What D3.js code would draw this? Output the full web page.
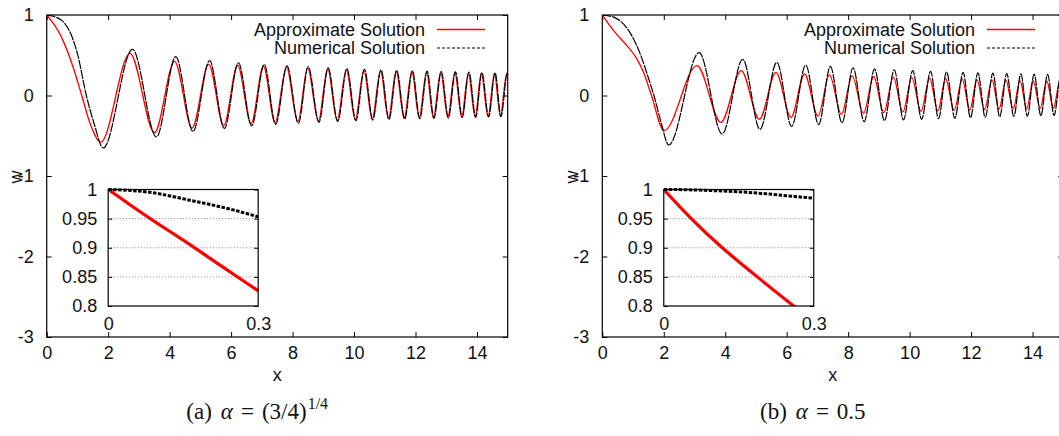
<!DOCTYPE html>
<html>
<head>
<meta charset="utf-8">
<script src="https://cdn.jsdelivr.net/npm/d3@7"></script>
<style>
body { margin: 0; background: #fff; }
svg { display: block; }
</style>
</head>
<body>
<svg id="chart" width="1059" height="436"></svg>
<script>
// tick labels
var xTicks = [0, 2, 4, 6, 8, 10, 12, 14];
var yTicks = [1, 0, -1, -2, -3];
var insetXTicks = [0, 0.3];
var insetYTicks = [1, 0.95, 0.9, 0.85, 0.8];
var insetGrid = [0.95, 0.9, 0.85];
var legendNames = ["Approximate Solution", "Numerical Solution"];

// (a) alpha = (3/4)^(1/4) : points (start, then peaks / troughs)
var numA = [[0,1],[0.46,0.94],[1.0,0.52],[1.29,0],[1.54,-0.345],[1.84,-0.652],
  [2.79,0.574],[3.57,-0.515],[4.20,0.482],[4.76,-0.447],[5.30,0.435],[5.78,-0.41],
  [6.24,0.407],[6.67,-0.377],[7.08,0.388],[7.45,-0.358],[7.82,0.368],[8.19,-0.345],
  [8.51,0.358],[8.86,-0.333],[9.16,0.343],[9.47,-0.324],[9.77,0.335],[10.06,-0.313],
  [10.34,0.326],[10.61,-0.305],[10.88,0.32],[11.14,-0.298],[11.39,0.314],[11.65,-0.292],
  [11.90,0.308],[12.14,-0.287],[12.38,0.302],[12.60,-0.282],[12.84,0.298],[13.07,-0.278],
  [13.30,0.294],[13.52,-0.274],[13.74,0.29],[13.96,-0.27],[14.16,0.286],[14.38,-0.267],
  [14.59,0.283],[14.78,-0.264],[14.99,0.28],[15,0.279]];
var appA = [[0,1],[0.45,0.75],[0.89,0.317],[1.14,0],[1.43,-0.366],[1.76,-0.58],
  [2.71,0.524],[3.51,-0.462],[4.16,0.425],[4.73,-0.405],[5.27,0.39],[5.76,-0.375],
  [6.21,0.377],[6.65,-0.352],[7.05,0.365],[7.43,-0.338],[7.80,0.355],[8.17,-0.328],
  [8.49,0.346],[8.84,-0.318],[9.14,0.333],[9.45,-0.31],[9.75,0.325],[10.04,-0.302],
  [10.32,0.316],[10.59,-0.295],[10.86,0.31],[11.12,-0.289],[11.37,0.305],[11.63,-0.284],
  [11.88,0.299],[12.12,-0.279],[12.36,0.294],[12.58,-0.275],[12.82,0.29],[13.05,-0.271],
  [13.28,0.286],[13.50,-0.268],[13.72,0.282],[13.94,-0.265],[14.14,0.279],[14.36,-0.262],
  [14.57,0.276],[14.76,-0.259],[14.97,0.273],[15,0.272]];
var numAZoom = [[0,1],[0.05,0.998],[0.1,0.993],[0.15,0.984],[0.2,0.975],[0.25,0.965],[0.3,0.953]];
var appAZoom = [[0,1],[0.05,0.970],[0.1,0.941],[0.15,0.913],[0.2,0.884],[0.25,0.855],[0.3,0.826]];

// (b) alpha = 0.5
var numB = [[0,1],[0.39,0.97],[0.95,0.75],[1.27,0.48],[1.49,0.23],[1.68,0],[1.92,-0.345],
  [2.16,-0.615],[3.15,0.532],[3.90,-0.478],[4.57,0.45],[5.13,-0.42],[5.68,0.412],
  [6.16,-0.383],[6.62,0.379],[7.04,-0.362],[7.42,0.362],[7.80,-0.34],[8.16,0.345],
  [8.52,-0.325],[8.86,0.33],[9.18,-0.313],[9.50,0.32],[9.80,-0.304],[10.10,0.31],
  [10.39,-0.296],[10.68,0.3],[10.94,-0.288],[11.20,0.293],[11.47,-0.282],[11.74,0.287],
  [11.98,-0.276],[12.22,0.281],[12.46,-0.27],[12.71,0.277],[12.93,-0.265],[13.16,0.272],
  [13.39,-0.26],[13.62,0.268],[13.83,-0.256],[14.05,0.265],[14.27,-0.252],[14.49,0.262],
  [14.70,-0.248],[14.92,0.26],[15,0.25]];
var appB = [[0,1],[0.4,0.79],[0.8,0.62],[1.1,0.47],[1.35,0.28],[1.6,0],[2.01,-0.437],
  [3.08,0.37],[3.86,-0.333],[4.52,0.308],[5.11,-0.296],[5.65,0.288],[6.14,-0.271],
  [6.58,0.267],[7.02,-0.255],[7.39,0.255],[7.78,-0.235],[8.13,0.245],[8.50,-0.222],
  [8.83,0.236],[9.16,-0.212],[9.47,0.228],[9.78,-0.204],[10.07,0.221],[10.37,-0.197],
  [10.65,0.214],[10.92,-0.19],[11.17,0.208],[11.45,-0.184],[11.71,0.203],[11.96,-0.179],
  [12.19,0.198],[12.44,-0.174],[12.68,0.194],[12.91,-0.17],[13.13,0.19],[13.37,-0.166],
  [13.59,0.186],[13.81,-0.163],[14.02,0.183],[14.25,-0.16],[14.46,0.18],[14.68,-0.157],
  [14.89,0.177],[15,0.15]];
var numBZoom = [[0,1],[0.05,0.9995],[0.1,0.998],[0.15,0.996],[0.2,0.993],[0.25,0.989],[0.3,0.985]];
var appBZoom = [[0,1],[0.055,0.95],[0.117,0.9],[0.187,0.85],[0.26,0.8],[0.3,0.775]];

var svg = d3.select("#chart");
var font = "'Liberation Sans', Arial, Helvetica, sans-serif";
var serif = "'Liberation Serif', 'Times New Roman', serif";
var fmt = function(d) { return String(d); };

function panel(id, left, legendX, num, app, numZoom, appZoom, caption) {
  var top = 15, bottom = 337, width = 461;
  var x = d3.scaleLinear().domain([0, 15]).range([left, left + width]);
  var y = d3.scaleLinear().domain([-3, 1]).range([bottom, top]);

  var g = svg.append("g");

  g.append("clipPath").attr("id", "clip" + id)
    .append("rect").attr("x", left).attr("y", top).attr("width", width).attr("height", bottom - top);

  // frame
  g.append("rect").attr("x", left).attr("y", top).attr("width", width).attr("height", bottom - top)
    .attr("fill", "none").attr("stroke", "#000").attr("stroke-width", 1.2);

  function styleAxis(a) {
    a.select(".domain").remove();
    a.attr("font-family", font).attr("font-size", 18);
    a.selectAll("text").attr("fill", "#111");
    a.selectAll("line").attr("stroke-width", 1);
  }

  g.append("g").attr("transform", "translate(0," + bottom + ")")
    .call(d3.axisBottom(x).tickValues(xTicks).tickFormat(fmt).tickSizeInner(-5).tickSizeOuter(0).tickPadding(9))
    .call(styleAxis);
  g.append("g").attr("transform", "translate(0," + top + ")")
    .call(d3.axisTop(x).tickValues(xTicks).tickSizeInner(-5).tickSizeOuter(0).tickFormat(""))
    .call(styleAxis);
  g.append("g").attr("transform", "translate(" + left + ",0)")
    .call(d3.axisLeft(y).tickValues(yTicks).tickFormat(fmt).tickSizeInner(-5).tickSizeOuter(0).tickPadding(13))
    .call(styleAxis);
  g.append("g").attr("transform", "translate(" + (left + width) + ",0)")
    .call(d3.axisRight(y).tickValues(yTicks).tickSizeInner(-5).tickSizeOuter(0).tickFormat(""))
    .call(styleAxis);

  // axis titles
  g.append("text").attr("x", x(7.5)).attr("y", 381).attr("text-anchor", "middle")
    .attr("font-family", font).attr("font-size", 18).attr("fill", "#111").text("x");
  g.append("text").attr("transform", "translate(" + (left - 31) + ",177) rotate(-90)")
    .attr("text-anchor", "middle").attr("dy", "0.35em")
    .attr("font-family", font).attr("font-size", 18).attr("fill", "#111").text("w");

  var line = d3.line().x(function(d) { return x(d[0]); }).y(function(d) { return y(d[1]); })
    .curve(d3.curveMonotoneX);

  g.append("path").datum(app).attr("d", line).attr("clip-path", "url(#clip" + id + ")")
    .attr("fill", "none").attr("stroke", "#ff0000").attr("stroke-width", 1.3);
  g.append("path").datum(num).attr("d", line).attr("clip-path", "url(#clip" + id + ")")
    .attr("fill", "none").attr("stroke", "#000").attr("stroke-width", 1.2)
    .attr("stroke-dasharray", "9,1");

  // legend
  var ly = [29.5, 48];
  legendNames.forEach(function(name, i) {
    g.append("text").attr("x", legendX).attr("y", ly[i]).attr("dy", "0.35em").attr("text-anchor", "end")
      .attr("font-family", font).attr("font-size", 18).attr("fill", "#111").text(name);
    g.append("line").attr("x1", legendX + 12).attr("x2", legendX + 60).attr("y1", ly[i]).attr("y2", ly[i])
      .attr("stroke", i === 0 ? "#ff0000" : "#000").attr("stroke-width", i === 0 ? 1.6 : 1)
      .attr("stroke-dasharray", i === 0 ? null : "3,2");
  });

  // inset
  var ix0 = x(2), iw = 150, itop = 189.5, ibot = 306;
  var ix = d3.scaleLinear().domain([0, 0.3]).range([ix0, ix0 + iw]);
  var iy = d3.scaleLinear().domain([0.8, 1]).range([ibot, itop]);
  var ins = g.append("g");
  ins.append("clipPath").attr("id", "iclip" + id)
    .append("rect").attr("x", ix0).attr("y", itop - 2).attr("width", iw).attr("height", ibot - itop + 2);
  ins.append("rect").attr("x", ix0).attr("y", itop).attr("width", iw).attr("height", ibot - itop)
    .attr("fill", "#fff");
  ins.selectAll("line.grid").data(insetGrid).enter().append("line").attr("class", "grid")
    .attr("x1", ix0).attr("x2", ix0 + iw).attr("y1", function(d) { return iy(d); })
    .attr("y2", function(d) { return iy(d); })
    .attr("stroke", "#888").attr("stroke-width", 1).attr("stroke-dasharray", "1,2");
  ins.append("g").attr("transform", "translate(" + ix0 + ",0)")
    .call(d3.axisLeft(iy).tickValues(insetYTicks).tickFormat(fmt).tickSizeInner(-4).tickSizeOuter(0).tickPadding(11))
    .call(styleAxis);
  ins.append("g").attr("transform", "translate(" + (ix0 + iw) + ",0)")
    .call(d3.axisRight(iy).tickValues(insetYTicks).tickSizeInner(-4).tickSizeOuter(0).tickFormat(""))
    .call(styleAxis);
  ins.append("g").attr("transform", "translate(0," + ibot + ")")
    .call(d3.axisBottom(ix).tickValues(insetXTicks).tickFormat(fmt).tickSizeInner(0).tickSizeOuter(0).tickPadding(11))
    .call(styleAxis);

  var iline = d3.line().x(function(d) { return ix(d[0]); }).y(function(d) { return iy(d[1]); })
    .curve(d3.curveNatural);
  ins.append("path").datum(appZoom).attr("d", iline).attr("clip-path", "url(#iclip" + id + ")")
    .attr("fill", "none").attr("stroke", "#ff0000").attr("stroke-width", 3.2);
  ins.append("path").datum(numZoom).attr("d", iline).attr("clip-path", "url(#iclip" + id + ")")
    .attr("fill", "none").attr("stroke", "#000").attr("stroke-width", 3)
    .attr("stroke-dasharray", "3.5,1.5");
  ins.append("rect").attr("x", ix0).attr("y", itop).attr("width", iw).attr("height", ibot - itop)
    .attr("fill", "none").attr("stroke", "#000").attr("stroke-width", 1.2);

  // caption
  var cap = g.append("text").attr("x", x(7.5) - 20).attr("y", 419).attr("text-anchor", "middle")
    .attr("font-family", serif).attr("font-size", 23).attr("fill", "#111");
  caption(cap);
}

panel("a", 46.7, 425, numA, appA, numAZoom, appAZoom, function(t) {
  t.append("tspan").text("(a)");
  t.append("tspan").attr("dx", 9).attr("font-style", "italic").text("α");
  t.append("tspan").attr("dx", 8).text("=");
  t.append("tspan").attr("dx", 8).text("(3/4)");
  t.append("tspan").attr("dx", 1).attr("dy", -10).attr("font-size", 16).text("1/4");
});
panel("b", 602.3, 975, numB, appB, numBZoom, appBZoom, function(t) {
  t.append("tspan").text("(b)");
  t.append("tspan").attr("dx", 9).attr("font-style", "italic").text("α");
  t.append("tspan").attr("dx", 8).text("=");
  t.append("tspan").attr("dx", 8).text("0.5");
});
</script>
</body>
</html>
